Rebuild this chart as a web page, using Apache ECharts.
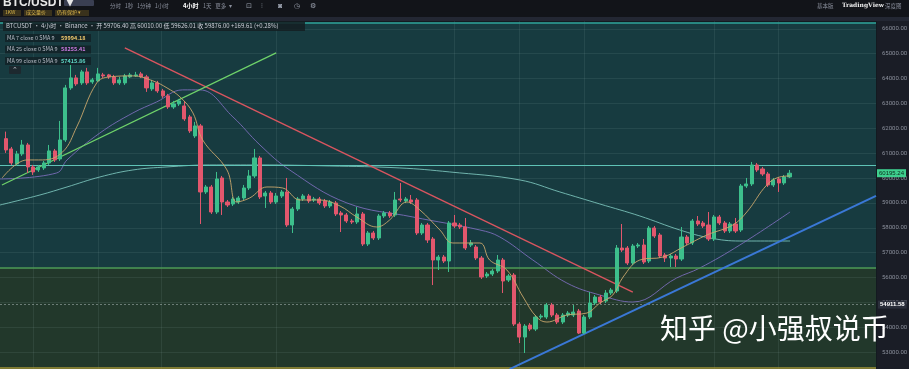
<!DOCTYPE html>
<html><head><meta charset="utf-8">
<script src="https://cdn.jsdelivr.net/npm/echarts@6/dist/echarts.min.js"></script>
<style>html,body{margin:0;padding:0;background:#131722;}#c{width:909px;height:369px;}</style>
</head><body><div id="c"></div>
<script>
// ---- data (4h candles, index = position) ----
// each candle: [open, close, low, high]
const candles = [
[61586,61131,61010,61867],[61171,60608,60527,61252],[60568,60970,60487,61091],[60970,61332,60890,61533],
[61332,60447,60206,61413],[60447,60246,60125,60527],[60326,60447,60246,60527],[60407,60608,60326,60688],
[60608,61091,60527,61332],[61091,60729,60648,61171],[60769,61533,60688,62298],[61533,63626,61453,63746],
[63626,64028,63546,64551],[64028,63787,63706,64149],[63827,64270,63746,64350],[64270,63827,63746,64431],
[63867,63948,63787,64028],[63908,64189,63867,64431],[64149,64109,64028,64230],[64149,64069,63988,64189],
[64069,63827,63746,64149],[63827,63948,63746,64069],[63827,64109,63746,64189],[64069,64149,64028,64230],
[64109,64149,64069,64270],[64189,64069,64028,64270],[64069,63626,63465,64149],[63586,63827,63505,63948],
[63827,63505,63425,63908],[63505,63306,63224,63586],[63306,62861,62781,63385],[62861,62982,62781,63103],
[62982,63103,62901,63184],[62901,62378,62298,63103],[62459,61896,61815,62539],[61694,62097,61614,62258],
[62097,59441,58153,62177],[59441,59642,59360,59723],[59642,58636,58556,59723],[58636,59964,58556,60246],
[60004,59038,58516,60085],[59038,58918,58837,59119],[58958,59159,58878,59240],[59038,59199,58958,59280],
[59199,59602,59119,59723],[59602,60085,59521,60326],[60085,60809,60004,61171],[60809,59240,59159,60890],
[59280,59400,58797,59481],[59400,59038,58958,59481],[59038,59280,58958,59400],[59280,59441,59199,59521],
[59441,58113,58033,60004],[58113,58757,57791,58837],[58757,59159,58676,59240],[59159,59280,59079,59360],
[59280,59079,58998,59360],[59119,59159,59038,59240],[59159,58998,58918,59240],[59079,58878,58797,59159],
[58878,59038,58797,59119],[58998,58556,58475,59079],[58596,58516,57831,58676],[58516,58274,58194,58596],
[58274,58234,58153,58355],[58234,58556,58153,58837],[58556,57348,57268,58636],[57348,57791,57268,57872],
[57791,57590,57509,57872],[57590,58475,57509,58556],[58475,58596,58395,58676],[58596,58475,58395,58676],
[58516,59119,58435,59441],[59159,59119,59038,59803],[59079,59159,58998,59240],[59119,59038,58958,59320],
[59119,57791,57711,59199],[57791,58113,57711,58194],[58113,57509,57389,58194],[57550,56705,55698,57630],
[56705,56825,56302,56906],[56825,56664,56584,56906],[56664,58194,56222,58274],[58194,58073,57992,58516],
[58113,58033,57952,58194],[58033,57187,57107,58395],[57308,57389,57228,57509],[57228,56785,56705,57308],
[56785,56021,55940,56866],[56061,56141,55980,56222],[56141,56262,56061,56342],[56262,56705,56181,56906],
[56705,55860,55377,56785],[55900,56061,55819,56141],[56101,54129,54049,56181],[54129,53606,53365,54210],
[53606,54049,52965,54129],[54089,53928,53847,54169],[53928,54411,53847,54492],[54411,54451,54330,54532],
[54411,54894,54330,54975],[54894,54492,54411,54975],[54492,54210,54129,54572],[54210,54492,54129,54572],
[54492,54572,54411,54652],[54492,54612,54411,54894],[54652,53767,53727,54734],[53767,54411,53727,54492],
[54411,54975,54330,55417],[54975,55216,54894,55297],[55216,55015,54934,55297],[55055,55377,54975,55497],
[55377,55497,55297,55578],[55457,57187,55377,57308],[57187,57107,57027,58153],[57187,56584,56503,57268],
[56584,57268,56503,57348],[57268,57308,57187,57389],[57308,56624,56544,57550],[56664,57992,56584,58073],
[57992,57670,57590,58073],[57711,56866,56785,57791],[56906,56785,56624,56986],[56785,56866,56423,56946],
[56866,56745,56423,56946],[56745,57630,56664,58033],[57630,57389,57308,57711],[57389,58274,57308,58355],
[58274,58153,58073,58475],[58194,58073,57992,58274],[58113,57550,57469,58636],[57550,58435,57469,58516],
[58435,58194,58113,58516],[58194,57872,57791,58274],[57872,58153,57791,58234],[58153,57872,57791,58395],
[57912,59682,57831,59763],[59682,59763,59602,60004],[59763,60527,59682,60648],[60527,60326,60246,60608],
[60366,60165,60085,60447],[60165,59723,59642,60246],[59723,59924,59642,60004],[59964,59803,59441,60045],
[59803,60045,59723,60125],[60045,60195,60004,60326]
];
// moving averages read at sample points: [candle position, price]
const ma7 = [[-0.7,60004],[3.9,60729],[6.8,60729],[10.5,61051],[13.1,62057],[16.8,63827],[19.2,64069],[23.5,64109],
[27.2,63908],[29.8,63626],[32.2,63264],[34.6,62620],[36.4,61533],[40.9,60326],[42.7,59038],[45.1,59199],
[48.3,59642],[51.2,59602],[54.4,59119],[58.1,59119],[61.8,58878],[64.9,58435],[68.6,58033],[71.0,58314],
[74.2,59038],[76.6,58717],[80.3,57912],[82.7,57389],[87.7,57389],[89.5,56705],[92.7,56302],[95.7,55216],
[98.2,54411],[100.1,54210],[103.8,54492],[107.5,54572],[109.9,54975],[112.3,55297],[114.2,56021],[117.3,56705],
[121.6,56825],[125.3,57228],[129.7,57711],[134.5,58113],[137.1,58636],[140.8,59723],[143.2,60045],[145.1,60085]];
const ma25 = [[-1.1,59964],[9.4,60206],[11.3,60729],[17.4,61815],[23.5,62620],[27.9,63063],[32.7,63546],[35.9,63546],
[42.0,62459],[47.0,61332],[52.5,60326],[63.1,58998],[75.3,58435],[87.7,57912],[91.4,57630],[97.5,56705],
[103.8,55779],[109.9,55297],[116.0,55015],[124.1,55980],[128.4,56383],[135.8,57308],[145.1,58636]];
const ma99 = [[-1.1,58917],[6.3,59320],[11.3,59642],[17.4,60045],[23.5,60326],[29.8,60447],[37.7,60527],[47.0,60527],
[59.9,60487],[72.9,60407],[82.1,60246],[95.1,59924],[102.5,59441],[109.9,58958],[117.3,58475],[124.7,57912],
[130.3,57590],[135.8,57469],[145.1,57469]];
// drawn trend lines: [[pos, price],[pos, price]]
const redTrend = [[22.0,65236],[116.0,55417]];
const greenTrend = [[-0.74,59723],[50.0,65034]];
const blueTrend = [[93.2,52318],[161.0,59280]];
// horizontal levels
const boxTop = 66254, boxMid = 56400, boxBottom = 52387;
const levelLine = 60500;
const lastPrice = 60195.24, markPrice = 54911.58;
// vertical time-grid positions (candle positions)
const vGrid = [5,17,28.7,50,83,95,107,131,143];
// price axis
const yMin = 52000, yMax = 67000, yStep = 1000;
const legendRows = [['MA 7 close 0 SMA 9','59994.18','#e9c46a'],['MA 25 close 0 SMA 9','58255.41','#c678dd'],['MA 99 close 0 SMA 9','57415.86','#5fd7c6']];

const UP='#3dbf8c', DOWN='#e2576d';
const chart = echarts.init(document.getElementById('c'));
const cjk = '"Noto Sans CJK SC","Noto Sans",sans-serif';
const txt = (x,y,t,c,fs,extra)=>Object.assign({type:'text',x:x,y:y,z:100,style:Object.assign({text:t,fill:c,font:(fs||7)+'px '+cjk},extra||{})});
const graphics = [
  {type:'rect',shape:{x:0,y:0,width:909,height:17},style:{fill:'#121419'},z:90},
  {type:'rect',shape:{x:0,y:17,width:909,height:4},style:{fill:'#232733'},z:90},
  {type:'rect',shape:{x:877,y:17,width:32,height:352},style:{fill:'#1a1d26'},z:-1},
  txt(3,-3,'BTC/USDT ▾','#e8e8e8',10,{fontWeight:'bold',font:'bold 10px '+cjk}),
  {type:'rect',shape:{x:64,y:0,width:30,height:6,r:1},style:{fill:'#3a3f52'},z:95},
  {type:'rect',shape:{x:3,y:10,width:18,height:6},style:{fill:'#3a321c'},z:95},
  {type:'rect',shape:{x:24,y:10,width:28,height:6},style:{fill:'#3a321c'},z:95},
  {type:'rect',shape:{x:55,y:10,width:34,height:6},style:{fill:'#3a321c'},z:95},
  txt(5,9.5,'1KW','#d9b54a',5),txt(26,9.5,'成交量价','#d9b54a',5),txt(57,9.5,'仍有保护 ▾','#d9b54a',5),
  txt(110,3,'分时   1秒   1分钟   1小时','#8a8f9c',5.5),
  txt(183,2.5,'4小时','#ffffff',6,{font:'bold 6px '+cjk}),
  txt(203,3,'1天   更多  ▾','#8a8f9c',5.5),
  txt(246,2,'⊡','#9aa0ad',7),txt(261,2,'⫶','#9aa0ad',7),txt(278,2,'◙','#9aa0ad',7),txt(294,2,'◷','#9aa0ad',7),txt(310,2,'⚙','#9aa0ad',7),
  txt(817,3,'基本版','#8a8f9c',5.5),
  txt(842,2.5,'TradingView','#f0f0f0',6,{font:'bold 6px "DejaVu Serif",serif'}),
  txt(885,3,'深度图','#8a8f9c',5.5),
  {type:'rect',shape:{x:3,y:21,width:302,height:10},style:{fill:'rgba(20,30,34,0.85)'},z:95},
  txt(6,22.5,'BTCUSDT · 4小时 · Binance · 开 59706.40 高 60010.00 低 59626.01 收 59876.00 +169.61 (+0.28%)','#c9cdd6',6),
  {type:'rect',shape:{x:9,y:66,width:12,height:8,r:1},style:{fill:'rgba(30,40,46,0.9)'},z:95},
  txt(12,66,'⌃','#c0c4cc',7),
  txt(660,314,'知乎 @小强叔说币','#ffffff',28,{font:'28px '+cjk,shadowBlur:2,shadowColor:'rgba(0,0,0,0.4)'})
];
legendRows.forEach((r,k)=>{
  const y = 34 + k*11.5;
  graphics.push({type:'rect',shape:{x:5,y:y,width:86,height:8},style:{fill:'rgba(18,32,36,0.8)'},z:95});
  graphics.push(txt(7,y+1,r[0],'#b7bcc6',5.5));
  graphics.push(txt(61,y+1,r[1],r[2],5.5,{font:'bold 5.5px '+cjk}));
});

const hLine = (v,c,w,type)=>({yAxis:v,lineStyle:{color:c,width:w,type:type||'solid'},label:{show:false}});
const seg = (p,c,w)=>[{coord:p[0],lineStyle:{color:c,width:w,type:'solid'}},{coord:p[1]}];

const option = {
  backgroundColor:'#131a20',
  animation:false,
  graphic:graphics,
  grid:{left:0,right:33,top:4,bottom:-8,outerBoundsMode:'none',containLabel:false},
  xAxis:{type:'value',min:-1.1,max:161,show:false},
  yAxis:{type:'value',position:'right',min:yMin,max:yMax,interval:yStep,z:3,
    axisLine:{show:false},axisTick:{show:false},
    axisLabel:{color:'#8b909c',fontSize:6,margin:6,fontFamily:'Roboto',formatter:v=>v>=yMax?'':v.toFixed(2)},
    splitLine:{lineStyle:{color:'rgba(170,200,200,0.10)',width:1}}},
  series:[
    {type:'line',data:[],z:1,silent:true,
      markArea:{silent:true,data:[
        [{yAxis:boxTop,xAxis:-1.1,itemStyle:{color:'#173b40'}},{yAxis:boxMid,xAxis:161}],
        [{yAxis:boxMid,xAxis:-1.1,itemStyle:{color:'#22382b'}},{yAxis:boxBottom,xAxis:161}]
      ]}},
    {type:'line',data:[],z:3,silent:true,
      markLine:{silent:true,symbol:'none',animation:false,
        lineStyle:{color:'rgba(170,200,200,0.10)',width:1,type:'solid'},label:{show:false},
        data:vGrid.map(v=>({xAxis:v}))}},
    {type:'candlestick',z:5,barWidth:3.6,
      data:candles.map((c,i)=>[i,c[0],c[1],c[2],c[3]]),
      encode:{x:0,y:[1,2,3,4]},
      itemStyle:{color:UP,color0:DOWN,borderColor:UP,borderColor0:DOWN,borderWidth:1}},
    {type:'line',z:4,data:ma99,showSymbol:false,smooth:0.4,lineStyle:{color:'#7fc9c0',width:1,opacity:0.85}},
    {type:'line',z:4,data:ma25,showSymbol:false,smooth:0.4,lineStyle:{color:'#7a6db8',width:1,opacity:0.9}},
    {type:'line',z:6,data:ma7,showSymbol:false,smooth:0.4,lineStyle:{color:'#c9a66b',width:1,opacity:0.9}},
    {type:'line',data:[],z:7,silent:true,
      markLine:{silent:true,symbol:'none',animation:false,label:{show:false},
        data:[
          hLine(boxTop,'#2fa59a',1.5),
          hLine(boxMid,'#4d9c5a',1.5),
          hLine(boxBottom,'#a39a3a',1.5),
          hLine(levelLine,'#5fc3b6',1.2),
          {yAxis:markPrice,lineStyle:{color:'rgba(200,210,210,0.45)',width:1,type:[2,2]},
            label:{show:true,position:'end',distance:2,formatter:'54911.58',color:'#ffffff',fontSize:6,fontWeight:'bold',
              backgroundColor:'#2b2f3b',padding:[1,2]}},
          {yAxis:lastPrice,lineStyle:{color:'rgba(0,0,0,0)',width:0},
            label:{show:true,position:'end',distance:1,formatter:'60195.24',color:'#0b2a1c',fontSize:6,
              backgroundColor:'#3ecf8e',padding:[1,2]}},
          seg(redTrend,'#d9555f',1.4),
          seg(greenTrend,'#6fd36a',1.2),
          seg(blueTrend,'#3a78d6',2)
        ]}}
  ]
};
chart.setOption(option);
</script></body></html>
